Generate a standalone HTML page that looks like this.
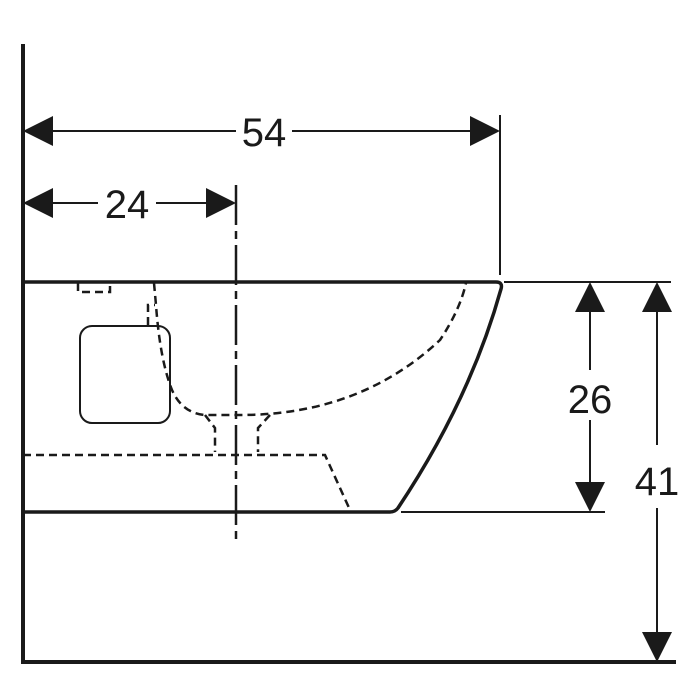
<!DOCTYPE html><html><head><style>body{margin:0;background:#fff}svg{display:block}</style></head><body>
<svg width="700" height="700" viewBox="0 0 700 700" xmlns="http://www.w3.org/2000/svg">
<g fill="none" stroke="#1a1a1a">
<line x1="23" y1="44" x2="23" y2="664" stroke-width="4"/>
<line x1="21" y1="662" x2="676" y2="662" stroke-width="4"/>
<path d="M23 282 H496 Q503 282 501 289 Q470 400 398 508 Q395 512 390 512 H23" stroke-width="3.5"/>
<line x1="504" y1="282" x2="671" y2="282" stroke-width="2"/>
<line x1="401" y1="512" x2="605" y2="512" stroke-width="2"/>
<line x1="500" y1="115" x2="500" y2="275" stroke-width="2"/>
<line x1="236" y1="185" x2="236" y2="545" stroke-width="2.5" stroke-dasharray="40 6 8 6"/>
<line x1="40" y1="131" x2="236" y2="131" stroke-width="2"/>
<line x1="292" y1="131" x2="485" y2="131" stroke-width="2"/>
<line x1="40" y1="203" x2="98" y2="203" stroke-width="2"/>
<line x1="156" y1="203" x2="220" y2="203" stroke-width="2"/>
<line x1="590" y1="300" x2="590" y2="370" stroke-width="2"/>
<line x1="590" y1="420" x2="590" y2="495" stroke-width="2"/>
<line x1="657" y1="300" x2="657" y2="445" stroke-width="2"/>
<line x1="657" y1="508" x2="657" y2="645" stroke-width="2"/>
<rect x="80" y="326" width="90" height="97" rx="12" stroke-width="2"/>
<g stroke-width="2.5" stroke-dasharray="8 5">
<path d="M78 283 V292 H110 V283"/>
<path d="M154 283 L156 305 Q160 360 172 390 Q182 413 205 415 H240 Q360 415 440 340 Q460 310 466 283"/>
<path d="M148 325 V305 H155"/>
<path d="M205 415 L215 428 V452"/>
<path d="M270 415 L258 428 V452"/>
<path d="M23 455 H325 L350 510"/>
</g>
</g>
<g fill="#1a1a1a">
<polygon points="23,131 53,116 53,146"/>
<polygon points="500,131 470,116 470,146"/>
<polygon points="23,203 53,188 53,218"/>
<polygon points="236,203 206,188 206,218"/>
<polygon points="590,282 575,312 605,312"/>
<polygon points="590,512 575,482 605,482"/>
<polygon points="657,282 642,312 672,312"/>
<polygon points="657,662 642,632 672,632"/>
</g>
<g font-family="Liberation Sans, sans-serif" font-size="40" fill="#1a1a1a" text-anchor="middle">
<text x="264" y="146">54</text>
<text x="127" y="218">24</text>
<text x="590" y="413">26</text>
<text x="657" y="495">41</text>
</g>
</svg>
</body></html>
